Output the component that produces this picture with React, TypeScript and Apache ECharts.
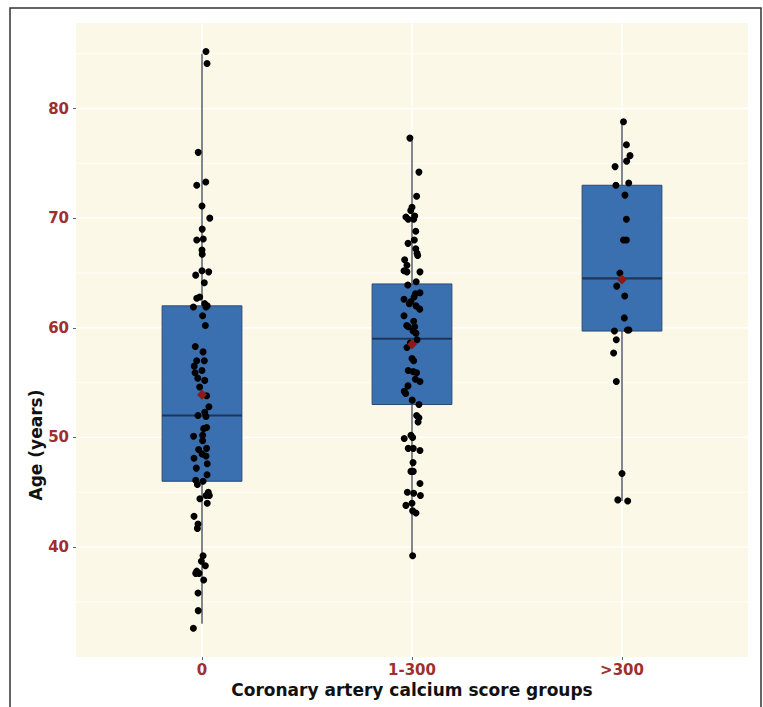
import React, { useEffect, useRef } from 'react';
import * as echarts from 'echarts';

const categories = ['0', '1-300', '>300'];
const yBreaks = [40, 50, 60, 70, 80];
const yMinorBreaks = [35, 45, 55, 65, 75, 85];
const xTitle = 'Coronary artery calcium score groups';
const yTitle = 'Age (years)';

// [min, Q1, median, Q3, max] per group
const boxStats = [
  [33, 46, 52, 62, 85],
  [39.2, 53, 59, 64, 77.2],
  [44.2, 59.7, 64.5, 73, 78.8],
];
const groupMeans = [53.9, 58.5, 64.4];

// [horizontal jitter (category units), age]
const group0Points = [
  [0.019, 85.2], [0.024, 84.1], [-0.018, 76.0], [-0.025, 73.0], [0.018, 73.3],
  [0.0, 71.1], [0.037, 70.0], [0.001, 69.0], [-0.025, 68.0], [0.006, 68.1],
  [0.0, 67.1], [0.001, 66.7], [-0.03, 64.8], [0.0, 65.2], [0.032, 65.1],
  [0.011, 64.1], [-0.025, 62.7], [-0.011, 62.8], [-0.041, 61.9], [0.013, 62.2],
  [0.025, 62.0], [0.019, 61.9], [0.003, 61.1], [0.016, 60.2],
  [-0.032, 58.3], [0.005, 57.8], [-0.025, 57.0], [0.011, 57.0], [-0.037, 56.5],
  [0.0, 56.1], [-0.033, 55.9], [-0.02, 55.4], [0.013, 55.2], [-0.011, 54.6],
  [0.022, 53.8], [-0.019, 52.0], [0.013, 52.3], [0.033, 52.8], [0.019, 51.9],
  [0.022, 50.9], [0.008, 50.8], [-0.04, 50.1], [0.003, 50.2], [0.003, 49.7],
  [-0.016, 48.9], [0.022, 49.0], [0.0, 48.5], [-0.038, 48.1], [0.019, 48.3],
  [0.025, 47.6], [-0.027, 47.2], [0.024, 46.6], [-0.03, 46.1], [0.005, 46.0],
  [-0.022, 45.7], [0.03, 45.0], [0.035, 44.7], [0.019, 44.7], [-0.01, 44.4],
  [0.025, 44.0], [-0.038, 42.8], [-0.019, 42.1], [-0.022, 41.7], [0.005, 39.2],
  [-0.003, 38.7], [0.016, 38.3], [-0.025, 37.8], [-0.014, 37.6], [-0.03, 37.6],
  [0.008, 37.0], [-0.019, 35.8], [-0.018, 34.2], [-0.041, 32.6],
];
const group1Points = [
  [-0.01, 77.3], [0.033, 74.2], [0.022, 72.0], [0.0, 71.0], [-0.006, 70.7],
  [-0.029, 70.1], [-0.018, 69.9], [0.013, 70.2], [0.008, 69.9], [0.018, 68.8],
  [0.011, 68.0], [-0.019, 67.7], [0.018, 67.2], [0.024, 66.8], [0.027, 66.6],
  [-0.035, 66.2], [-0.024, 65.7], [-0.038, 65.2], [-0.024, 65.1], [0.038, 65.1],
  [0.02, 64.2], [-0.02, 63.9], [0.038, 63.2], [0.016, 63.1], [0.01, 62.8],
  [-0.038, 62.6], [-0.005, 62.4], [-0.013, 62.2], [0.019, 62.0], [0.037, 61.7],
  [-0.038, 61.1], [-0.025, 60.2], [0.008, 60.6], [-0.018, 60.1], [0.013, 60.1],
  [0.005, 59.7], [0.019, 59.5], [0.024, 58.9], [-0.008, 58.6], [-0.024, 58.2],
  [0.0, 57.2], [0.008, 57.0], [-0.018, 56.1], [0.006, 56.0], [0.022, 55.9],
  [0.016, 55.3], [0.038, 55.1], [-0.019, 54.7], [-0.037, 54.2], [-0.03, 54.0],
  [0.001, 53.4], [0.033, 53.0], [0.022, 52.0], [0.033, 51.8], [0.029, 51.4],
  [-0.037, 49.9], [-0.005, 50.2], [0.003, 50.0], [-0.018, 49.0], [0.006, 49.0],
  [0.038, 48.8], [0.005, 47.7], [-0.005, 46.9], [0.006, 46.9], [0.038, 45.8],
  [-0.022, 45.0], [0.008, 44.9], [0.04, 44.7], [0.0, 44.0], [-0.029, 43.8],
  [0.003, 43.3], [0.019, 43.1], [0.003, 39.2],
];
const group2Points = [
  [0.007, 78.8], [0.021, 76.7], [0.038, 75.7], [0.022, 75.2], [-0.033, 74.7],
  [-0.029, 73.0], [0.032, 73.2], [0.014, 72.1], [0.021, 69.9], [0.007, 68.0],
  [0.021, 68.0], [-0.01, 65.0], [-0.025, 63.8], [0.013, 62.9], [0.011, 60.9],
  [-0.036, 59.7], [0.026, 59.8], [0.033, 59.8], [-0.027, 58.9], [-0.04, 57.7],
  [-0.027, 55.1], [0.0, 46.7], [-0.02, 44.3], [0.027, 44.2],
];

const FONT = 'DejaVu Sans';
const LABEL_RED = '#9f2f2f';
const BOX_WIDTH = 0.38;

export default function App() {
  const ref = useRef<HTMLDivElement>(null);

  useEffect(() => {
    if (!ref.current) return;
    const chart = echarts.init(ref.current, undefined, { renderer: 'svg' });

    const groups = [group0Points, group1Points, group2Points];
    const pointData: number[][] = [];
    groups.forEach((g, gi) => g.forEach(([j, a]) => pointData.push([gi + 1 + j, a])));

    const boxData = boxStats.map((s, i) => [i + 1, ...s]);
    const meanData = groupMeans.map((m, i) => [i + 1, m]);

    // [orientation (0 = horizontal, 1 = vertical), value, major (1) / minor (0)]
    const gridData: number[][] = [
      ...yMinorBreaks.map((v) => [0, v, 0]),
      ...yBreaks.map((v) => [0, v, 1]),
      ...categories.map((_, i) => [1, i + 1, 1]),
    ];

    chart.setOption({
      animation: false,
      grid: {
        left: 76,
        right: 15,
        top: 23,
        bottom: 50,
        show: true,
        backgroundColor: '#fcf8e8',
        borderWidth: 0,
      },
      xAxis: {
        type: 'value',
        min: 0.4,
        max: 3.6,
        axisLine: { show: false },
        splitLine: { show: false },
        axisTick: { show: true, customValues: [1, 2, 3], length: 3, lineStyle: { color: '#666' } },
        axisLabel: {
          customValues: [1, 2, 3],
          formatter: (v: number) => categories[Math.round(v) - 1] ?? '',
          margin: 5,
          fontFamily: FONT,
          fontSize: 15,
          fontWeight: 'bold',
          color: LABEL_RED,
        },
        name: xTitle,
        nameLocation: 'middle',
        nameGap: 24,
        nameTextStyle: { fontFamily: FONT, fontSize: 17, fontWeight: 'bold', color: '#111' },
      },
      yAxis: {
        type: 'value',
        min: 29.97,
        max: 87.8,
        axisLine: { show: false },
        splitLine: { show: false },
        axisTick: { show: true, customValues: yBreaks, length: 3, lineStyle: { color: '#666' } },
        axisLabel: {
          customValues: yBreaks,
          margin: 7,
          fontFamily: FONT,
          fontSize: 15,
          fontWeight: 'bold',
          color: LABEL_RED,
        },
      },
      graphic: [
        {
          type: 'rect',
          z: -10,
          shape: { x: 10, y: 8, width: 751, height: 760 },
          style: { fill: 'none', stroke: '#333', lineWidth: 1.5 },
        },
        {
          type: 'text',
          x: 36,
          y: 445,
          rotation: Math.PI / 2,
          style: {
            text: yTitle,
            fontFamily: FONT,
            fontSize: 17,
            fontWeight: 'bold',
            fill: '#111',
            align: 'center',
            verticalAlign: 'middle',
          },
        },
      ],
      series: [
        {
          type: 'custom',
          z: 1,
          silent: true,
          data: gridData,
          encode: { x: -1, y: -1 },
          renderItem: (params: any, api: any) => {
            const cs = params.coordSys;
            const orient = api.value(0);
            const v = api.value(1);
            const major = api.value(2) === 1;
            const style = { stroke: '#ffffff', lineWidth: major ? 1.4 : 0.7 };
            if (orient === 0) {
              const y = api.coord([1, v])[1];
              return { type: 'line', shape: { x1: cs.x, y1: y, x2: cs.x + cs.width, y2: y }, style };
            }
            const x = api.coord([v, 60])[0];
            return { type: 'line', shape: { x1: x, y1: cs.y, x2: x, y2: cs.y + cs.height }, style };
          },
        },
        {
          type: 'custom',
          z: 2,
          data: boxData,
          encode: { x: 0, y: [1, 2, 3, 4, 5] },
          renderItem: (params: any, api: any) => {
            const x = api.value(0);
            const lo = api.coord([x, api.value(1)]);
            const q1 = api.coord([x, api.value(2)]);
            const med = api.coord([x, api.value(3)]);
            const q3 = api.coord([x, api.value(4)]);
            const hi = api.coord([x, api.value(5)]);
            const half = api.size([BOX_WIDTH, 0])[0] / 2;
            return {
              type: 'group',
              children: [
                {
                  type: 'line',
                  shape: { x1: lo[0], y1: lo[1], x2: hi[0], y2: hi[1] },
                  style: { stroke: '#3f4756', lineWidth: 1.3 },
                },
                {
                  type: 'rect',
                  shape: { x: q3[0] - half, y: q3[1], width: half * 2, height: q1[1] - q3[1] },
                  style: { fill: '#3a6fb0', stroke: '#2a4b76', lineWidth: 1 },
                },
                {
                  type: 'line',
                  shape: { x1: med[0] - half, y1: med[1], x2: med[0] + half, y2: med[1] },
                  style: { stroke: '#1f3457', lineWidth: 2.2 },
                },
              ],
            };
          },
        },
        {
          type: 'scatter',
          z: 3,
          data: pointData,
          symbol: 'circle',
          symbolSize: 7,
          itemStyle: { color: '#000000', opacity: 1 },
        },
        {
          type: 'scatter',
          z: 4,
          data: meanData,
          symbol: 'diamond',
          symbolSize: [10, 10],
          itemStyle: { color: '#8b1a1a', opacity: 1 },
        },
      ],
    });

    return () => chart.dispose();
  }, []);

  return (
    <div
      ref={ref}
      style={{ position: 'absolute', left: 0, top: 0, width: 763, height: 707, background: '#ffffff' }}
    />
  );
}
